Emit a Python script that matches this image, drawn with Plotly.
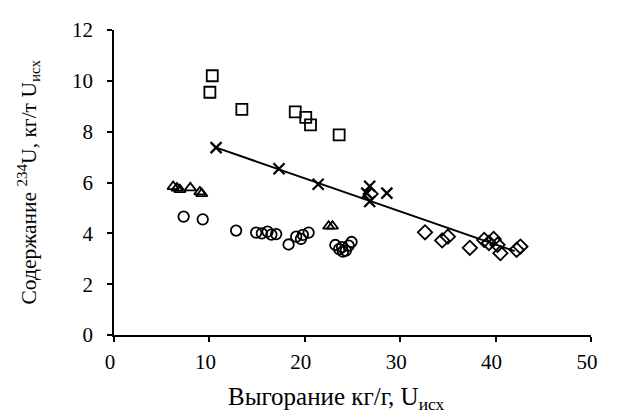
import plotly.graph_objects as go

# --- data ---
sq_x = [10.3, 10.05, 13.4, 19.0, 20.1, 20.6, 23.6]
sq_y = [10.2, 9.55, 8.88, 8.78, 8.56, 8.27, 7.87]

cr_x = [10.7, 17.3, 21.4, 26.8, 26.5, 26.8, 28.6]
cr_y = [7.37, 6.54, 5.93, 5.85, 5.58, 5.25, 5.58]

tr_x = [6.2, 6.6, 6.9, 8.0, 9.0, 9.2, 22.5, 22.9]
tr_y = [5.84, 5.78, 5.72, 5.79, 5.63, 5.56, 4.28, 4.28]

ci_x = [7.3, 9.3, 12.8, 14.9, 15.5, 16.1, 16.5, 17.0, 18.3, 19.1, 19.6, 19.8, 20.4,
        23.2, 23.6, 23.9, 24.0, 24.3, 24.6, 24.9]
ci_y = [4.66, 4.55, 4.11, 4.03, 4.00, 4.07, 3.95, 3.97, 3.56, 3.87, 3.78, 3.94, 4.03,
        3.54, 3.38, 3.46, 3.28, 3.32, 3.52, 3.66]

di_x = [26.9, 32.6, 34.4, 35.0, 37.3, 38.8, 39.3, 39.8, 40.2, 40.5, 42.2, 42.6]
di_y = [5.55, 4.04, 3.72, 3.87, 3.43, 3.74, 3.62, 3.78, 3.55, 3.22, 3.35, 3.48]

trend_x = [10.5, 42.0]
trend_y = [7.40, 3.30]

x_ticks = [0, 10, 20, 30, 40, 50]
y_ticks = [0, 2, 4, 6, 8, 10, 12]

x_title = "Выгорание кг/г, U<sub>исх</sub>"
y_title = "Содержание <sup>234</sup>U, кг/т U<sub>исх</sub>"

FONT = "Liberation Serif, Times New Roman, serif"
FS = 21
BLK = "#000000"

fig = go.Figure()

fig.add_trace(go.Scatter(x=trend_x, y=trend_y, mode="lines",
                         line=dict(color=BLK, width=2), showlegend=False, hoverinfo="skip"))

def add_markers(xs, ys, symbol, size, lw=1.8):
    fig.add_trace(go.Scatter(x=xs, y=ys, mode="markers", showlegend=False,
                             marker=dict(symbol=symbol, size=size, color=BLK,
                                         line=dict(color=BLK, width=lw))))

add_markers(sq_x, sq_y, "square-open", 11)
add_markers(tr_x, tr_y, "triangle-up-open", 10)
add_markers(ci_x, ci_y, "circle-open", 10.5)
add_markers(di_x, di_y, "diamond-open", 11)
add_markers(cr_x, cr_y, "x-thin-open", 11, 2.3)

fig.update_layout(
    width=618, height=418,
    margin=dict(l=114, r=27, t=30, b=83),
    paper_bgcolor="white", plot_bgcolor="white",
    font=dict(family=FONT, size=FS, color=BLK),
    showlegend=False,
)
fig.update_xaxes(range=[0, 50], tickvals=x_ticks, showgrid=False, zeroline=False,
                 showline=True, linecolor=BLK, linewidth=1.5,
                 ticks="outside", ticklen=5, tickwidth=1.5, tickcolor=BLK,
                 ticklabelstandoff=2, ticklabelshift=-4,
                 tickfont=dict(family=FONT, size=FS, color=BLK))
fig.update_yaxes(range=[0, 12], tickvals=y_ticks, showgrid=False, zeroline=False,
                 showline=True, linecolor=BLK, linewidth=1.5,
                 ticks="outside", ticklen=5, tickwidth=1.5, tickcolor=BLK,
                 ticklabelstandoff=10,
                 tickfont=dict(family=FONT, size=FS, color=BLK))

fig.add_annotation(text=x_title, xref="paper", yref="paper",
                   x=(336 - 114) / 477, y=-(398 - 335) / 305,
                   xanchor="center", yanchor="middle", showarrow=False,
                   font=dict(family=FONT, size=25, color=BLK))
fig.add_annotation(text=y_title, xref="paper", yref="paper",
                   x=-(114 - 28) / 477, y=0.5, textangle=-90,
                   xanchor="center", yanchor="middle", showarrow=False,
                   font=dict(family=FONT, size=21.5, color=BLK))

fig.write_html("out.html")
